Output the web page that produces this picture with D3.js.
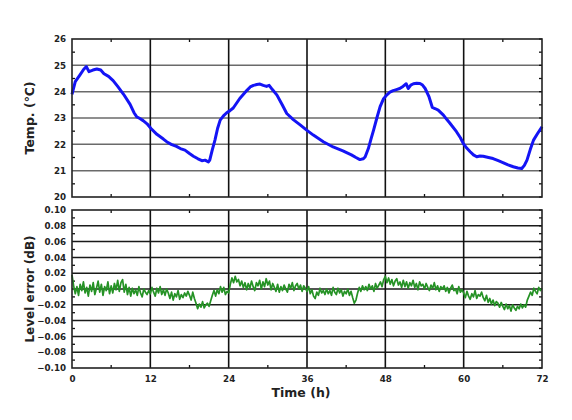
<!DOCTYPE html>
<html>
<head>
<meta charset="utf-8">
<script src="https://cdn.jsdelivr.net/npm/d3@7"></script>
<style>
    body { margin: 0; background: #fff; }
    text { font-family: "DejaVu Sans", Verdana, sans-serif; font-weight: bold; fill: #222; }
</style>
</head>
<body>
<svg id="chart"></svg>
<script>
// hours, with the temperature at each
const tempHours = [0, 0.5, 1.2, 1.8, 2.2, 2.6, 3.2, 3.8, 4.4, 4.9, 5.6, 6.3, 7.0, 7.9, 8.9, 9.5, 9.9, 10.4, 10.9, 11.5,
    12.1, 13.0, 14.0, 14.5, 15.2, 16.0, 16.6, 17.3, 18.0, 18.6, 19.3, 19.9, 20.4, 20.9, 21.1, 21.5, 21.9, 22.3, 22.7, 23.2,
    23.7, 24.2, 24.7, 25.2, 25.7, 26.2, 26.8, 27.3, 27.8, 28.3, 28.8, 29.3, 29.8, 30.2, 30.7, 31.4, 32.2, 32.9, 33.9, 35.0,
    35.95, 36.97, 38.5, 40.0, 41.5, 42.8, 43.5, 44.1, 44.6, 44.9, 45.4, 45.8, 46.2, 46.7, 47.2, 47.7, 48.2, 48.7, 49.2, 49.7,
    50.2, 50.7, 51.2, 51.5, 51.9, 52.3, 52.8, 53.3, 53.7, 54.1, 54.7, 55.2, 55.6, 56.1, 56.9, 57.4, 57.9, 58.9, 59.5, 59.95,
    60.5, 61.0, 61.5, 62.0, 62.5, 63.0, 63.8, 64.5, 65.3, 66.1, 66.8, 67.6, 68.3, 68.9, 69.3, 69.7, 70.2, 70.7, 71.3, 72.0]
const tempValues = [23.9, 24.38, 24.63, 24.85, 24.95, 24.76, 24.82, 24.86, 24.82, 24.68, 24.58, 24.42, 24.2, 23.9, 23.52, 23.2, 23.05, 22.98, 22.9, 22.78,
    22.6, 22.38, 22.2, 22.1, 22.0, 21.92, 21.84, 21.78, 21.65, 21.55, 21.45, 21.38, 21.4, 21.33, 21.4, 21.8, 22.16, 22.6, 22.92, 23.08,
    23.2, 23.28, 23.38, 23.56, 23.74, 23.88, 24.05, 24.18, 24.24, 24.27, 24.29, 24.24, 24.2, 24.24, 24.08, 23.87, 23.5, 23.17, 22.94, 22.73,
    22.54, 22.35, 22.1, 21.9, 21.75, 21.6, 21.5, 21.42, 21.45, 21.52, 21.84, 22.2, 22.54, 23.0, 23.43, 23.72, 23.87, 23.98, 24.04, 24.08,
    24.12, 24.2, 24.3, 24.12, 24.25, 24.3, 24.32, 24.31, 24.25, 24.12, 23.8, 23.4, 23.36, 23.3, 23.11, 22.95, 22.8, 22.48, 22.25, 22.03,
    21.85, 21.72, 21.6, 21.53, 21.56, 21.55, 21.5, 21.46, 21.38, 21.3, 21.22, 21.15, 21.1, 21.08, 21.2, 21.4, 21.8, 22.16, 22.4, 22.67]

// level error in mdB, one reading every 15 min from 0 h to 72 h (12 per row = 3 h)
const errStepHours = 0.25
const errMilliDb = [
    18, 4, -6, 3, -8, 6, -2, 9, -5, 2, -9, 5,
    -3, 8, -7, 1, 10, -4, 6, -8, 3, -2, 9, -6,
    4, -5, 7, -1, 11, -3, 8, 12, -4, 6, -7, 2,
    -9, 1, -6, -1, -8, 3, -5, -10, 0, -4, -7, -2,
    -6, 2, -4, -9, 1, -5, 3, -7, -1, -8, 0, -5,
    -12, -4, -14, -6, -10, -2, -13, -7, -11, -5, -9, -3,
    -8, -14, -4, -12, -18, -25, -19, -23, -16, -24, -20, -18,
    -22, -15, -8, -2, -9, -1, -6, 3, -4, 2, -7, -3,
    -5, 6, 14, 8, 16, 9, 12, 4, 10, 2, 8, -1,
    7, 1, 10, 3, -2, 8, 4, 11, 0, 9, 3, 13,
    5, 10, -1, 7, 2, -3, 6, -4, 3, -2, 5, 0,
    -4, 6, 1, 8, -2, 4, 7, 0, 5, -3, 4, 1,
    -3, 3, -6, -1, -9, -12, -4, -8, 1, -5, -2, -7,
    0, -6, -2, -8, 2, -4, -7, 1, -5, -1, -9, -3,
    -6, 0, -8, -3, -11, -18, -14, -5, 2, -3, 4, -1,
    3, -2, 6, 0, 4, -3, 7, 1, 5, 9, 3, 12,
    16, 8, 14, 6, 12, 4, 10, 13, 5, 9, 2, 11,
    3, 9, 1, 8, 4, 11, 2, 7, -1, 9, 4, 6,
    0, 7, 2, -2, 5, 1, 8, -1, 4, -3, 3, 0,
    4, -3, 2, -5, 1, 5, -2, 0, -6, 3, -4, -1,
    -5, -11, -3, -9, -13, -6, -10, -2, -12, -7, -9, -4,
    -11, -15, -8, -17, -12, -19, -14, -21, -16, -18, -23, -17,
    -22, -26, -19, -25, -21, -28, -20, -24, -27, -22, -25, -19,
    -24, -20, -23, -14, -9, -4, -8, 1, -3, -6, 2, -2,
    1
]

const xMajorTicks = [0, 12, 24, 36, 48, 60, 72]
const xMinorTicks = [6, 18, 30, 42, 54, 66]
const tempTicks = [20, 21, 22, 23, 24, 25, 26]
const tempMinorTicks = [20.5, 21.5, 22.5, 23.5, 24.5, 25.5]
const errTicks = [-0.10, -0.08, -0.06, -0.04, -0.02, 0.00, 0.02, 0.04, 0.06, 0.08, 0.10]
const errMinorTicks = [-0.09, -0.07, -0.05, -0.03, -0.01, 0.01, 0.03, 0.05, 0.07, 0.09]

const WIDTH = 572, HEIGHT = 420
const FONT = '"DejaVu Sans", Verdana, sans-serif'
const svg = d3.select('#chart').attr('width', WIDTH).attr('height', HEIGHT)

const x = d3.scaleLinear().domain([0, 72]).range([72, 542])

function styleTickText(sel) {
    sel.style('font-family', FONT)
        .style('font-weight', 'bold')
        .style('font-size', '8.7px')
        .attr('fill', '#333')
}

function drawPanel(cfg) {
    const y = d3.scaleLinear().domain(cfg.domain).range([cfg.bottom, cfg.top])
    const g = svg.append('g')

    // horizontal grid
    g.selectAll('.hgrid')
        .data(cfg.ticks.slice(1, -1))
        .join('line')
            .attr('x1', x(0)).attr('x2', x(72))
            .attr('y1', d => y(d)).attr('y2', d => y(d))
            .attr('stroke', cfg.hGridColor)
            .attr('stroke-width', 1.5)

    // vertical grid
    g.selectAll('.vgrid')
        .data(xMajorTicks.slice(1, -1))
        .join('line')
            .attr('x1', d => x(d)).attr('x2', d => x(d))
            .attr('y1', cfg.top).attr('y2', cfg.bottom)
            .attr('stroke', '#111')
            .attr('stroke-width', 1.6)

    // inward minor ticks
    const tickLen = 3
    const tickStyle = sel => sel.attr('stroke', '#111').attr('stroke-width', 1.3)
    g.append('g').selectAll('line').data(cfg.minorTicks).join('line')
        .attr('x1', x(0)).attr('x2', x(0) + tickLen)
        .attr('y1', d => y(d)).attr('y2', d => y(d)).call(tickStyle)
    g.append('g').selectAll('line').data(cfg.minorTicks.concat(cfg.ticks)).join('line')
        .attr('x1', x(72)).attr('x2', x(72) - tickLen)
        .attr('y1', d => y(d)).attr('y2', d => y(d)).call(tickStyle)
    g.append('g').selectAll('line').data(xMinorTicks).join('line')
        .attr('x1', d => x(d)).attr('x2', d => x(d))
        .attr('y1', cfg.top).attr('y2', cfg.top + tickLen).call(tickStyle)
    g.append('g').selectAll('line').data(xMinorTicks).join('line')
        .attr('x1', d => x(d)).attr('x2', d => x(d))
        .attr('y1', cfg.bottom).attr('y2', cfg.bottom - tickLen).call(tickStyle)

    // data line
    g.append('path')
        .datum(cfg.series)
        .attr('fill', 'none')
        .attr('stroke', cfg.lineColor)
        .attr('stroke-width', cfg.lineWidth)
        .attr('stroke-linejoin', 'round')
        .attr('d', d3.line().x(d => x(d[0])).y(d => y(d[1])))

    // frame
    g.append('rect')
        .attr('x', x(0)).attr('y', cfg.top)
        .attr('width', x(72) - x(0)).attr('height', cfg.bottom - cfg.top)
        .attr('fill', 'none')
        .attr('stroke', '#222')
        .attr('stroke-width', 1.6)

    // left axis labels
    const yAxis = d3.axisLeft(y)
        .tickValues(cfg.ticks)
        .tickSize(0)
        .tickPadding(6)
        .tickFormat(cfg.format)
    const yAxisGroup = g.append('g')
        .attr('transform', `translate(${x(0)}, 0)`)
        .call(yAxis)
    yAxisGroup.select('.domain').remove()
    yAxisGroup.selectAll('text').call(styleTickText)

    // axis title
    g.append('text')
        .attr('transform', `translate(34, ${(cfg.top + cfg.bottom) / 2}) rotate(-90)`)
        .attr('text-anchor', 'middle')
        .style('font-size', cfg.titleSize)
        .text(cfg.title)

    return y
}

drawPanel({
    top: 39, bottom: 197,
    domain: [20, 26],
    ticks: tempTicks,
    minorTicks: tempMinorTicks,
    format: d3.format('d'),
    hGridColor: '#6a6a6a',
    series: tempHours.map((h, i) => [h, tempValues[i]]),
    lineColor: '#1414f5',
    lineWidth: 3,
    title: 'Temp. (\u2103)',
    titleSize: '12.5px'
})

drawPanel({
    top: 210, bottom: 368,
    domain: [-0.10, 0.10],
    ticks: errTicks,
    minorTicks: errMinorTicks,
    format: d3.format('.2f'),
    hGridColor: '#1a1a1a',
    series: errMilliDb.map((v, i) => [i * errStepHours, v / 1000]),
    lineColor: '#259225',
    lineWidth: 1.7,
    title: 'Level error (dB)',
    titleSize: '12px'
})

// time axis under the lower panel
const xAxis = d3.axisBottom(x)
    .tickValues(xMajorTicks)
    .tickSize(0)
    .tickPadding(8)
    .tickFormat(d3.format('d'))
const xAxisGroup = svg.append('g')
    .attr('transform', 'translate(0, 368)')
    .call(xAxis)
xAxisGroup.select('.domain').remove()
xAxisGroup.selectAll('text').call(styleTickText)

svg.append('text')
    .attr('x', 301)
    .attr('y', 397)
    .attr('text-anchor', 'middle')
    .style('font-size', '12.5px')
    .text('Time (h)')
</script>
</body>
</html>
